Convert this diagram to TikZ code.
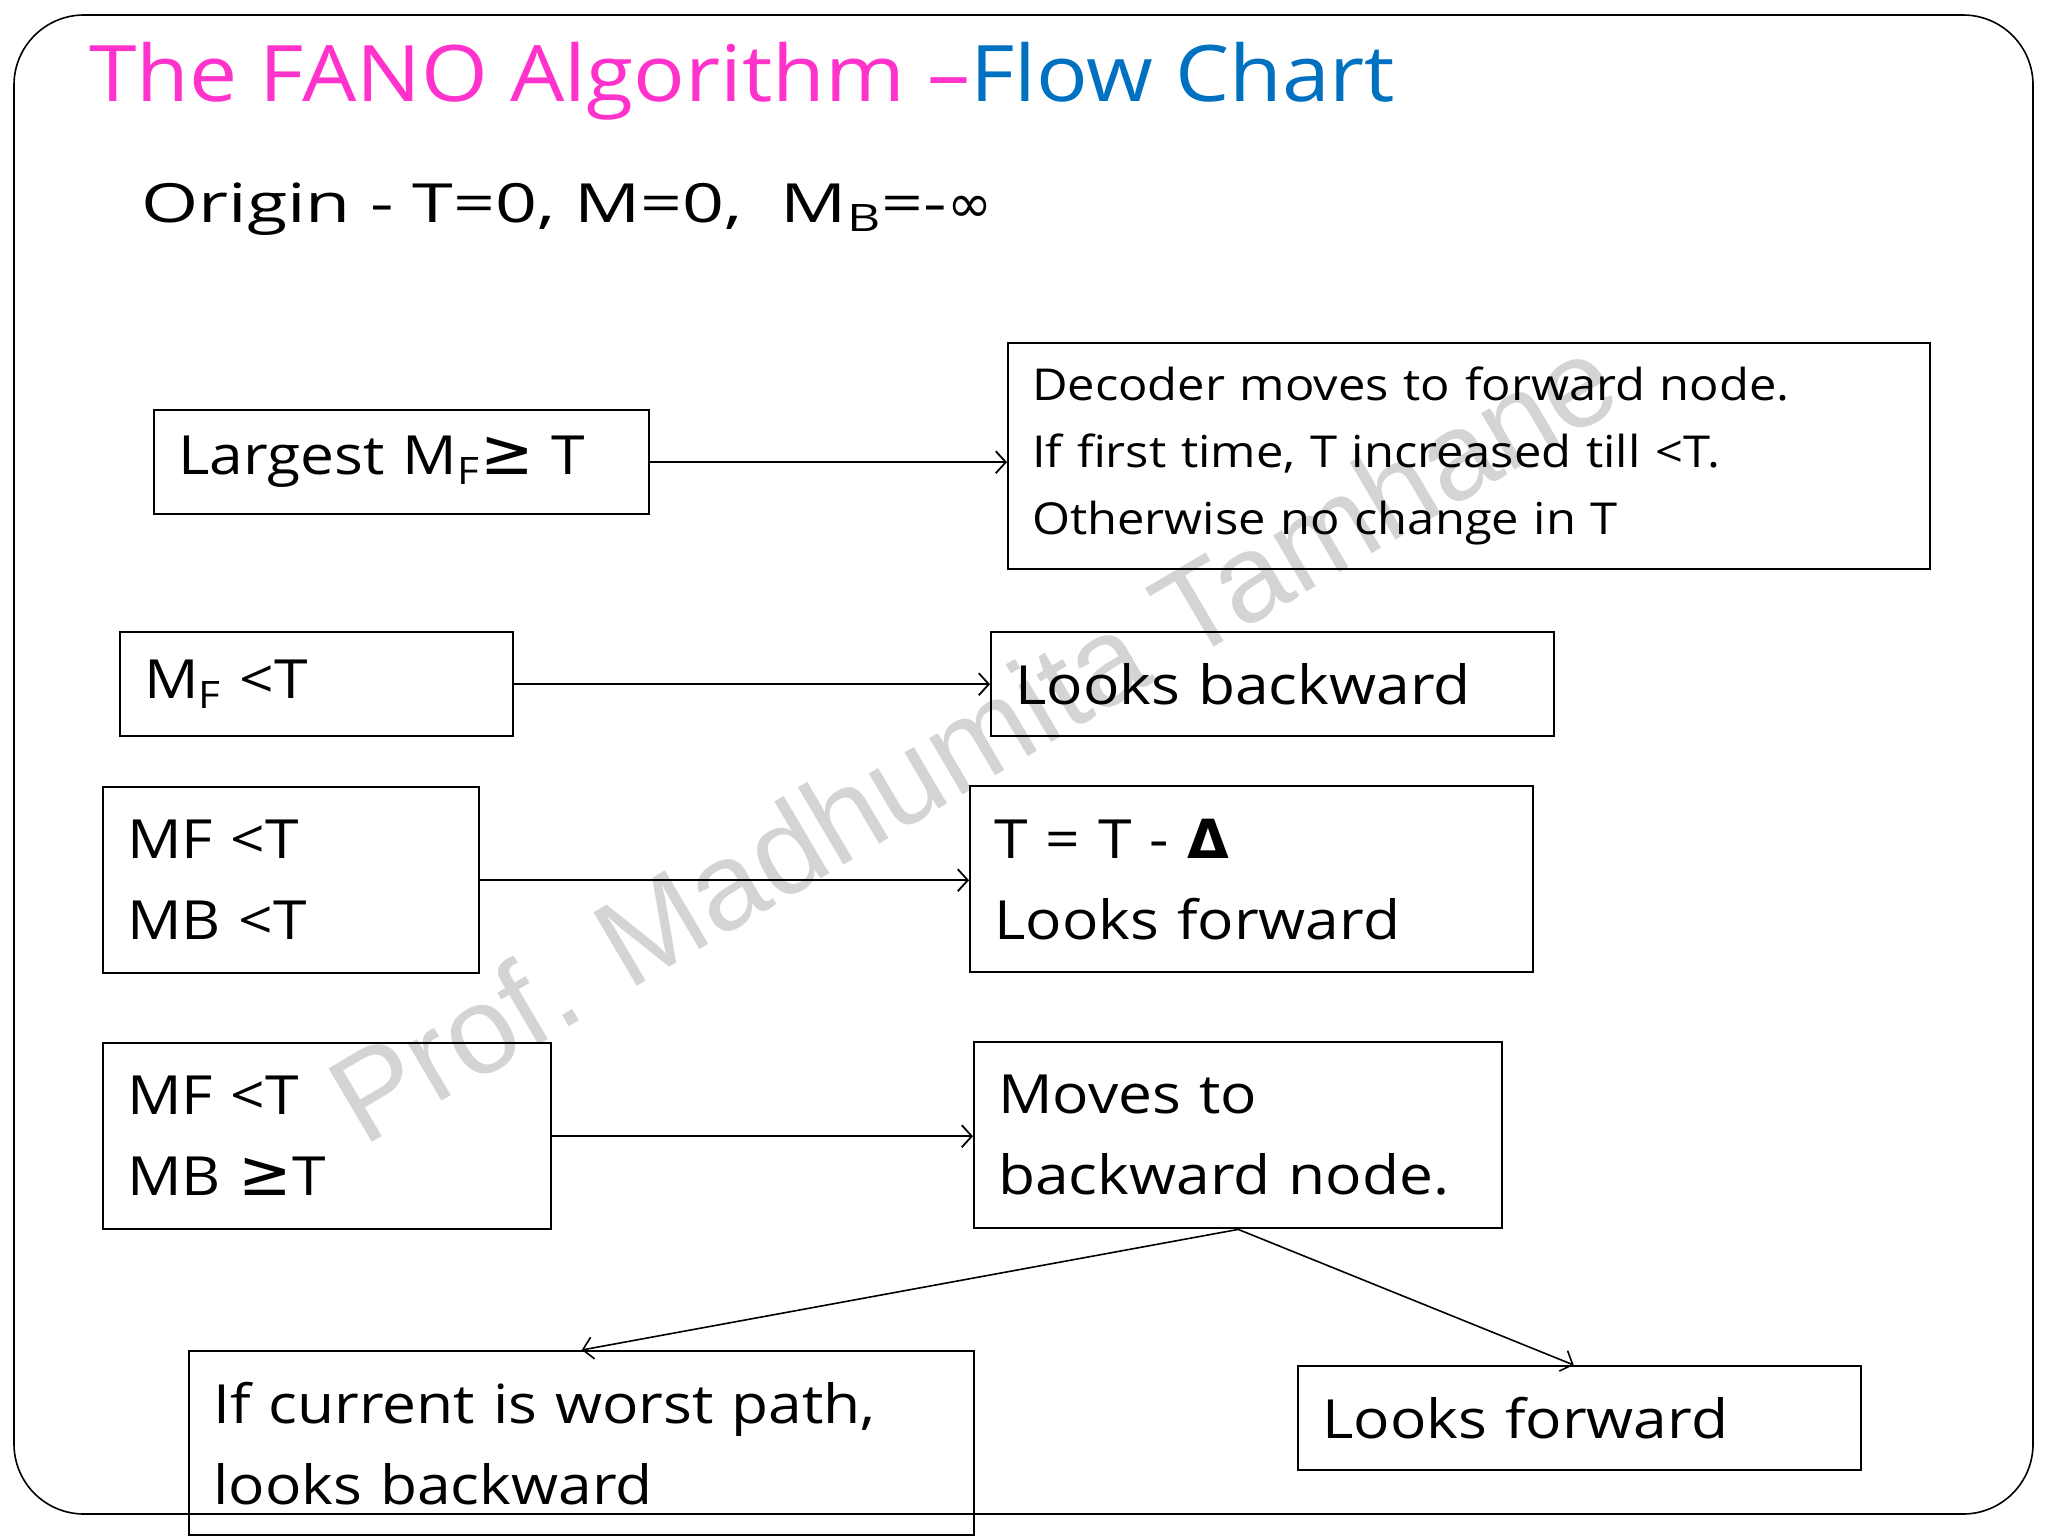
\documentclass[tikz,border=0pt]{standalone}
\usepackage{fontspec}
\setmainfont{Open Sans}
\newfontfamily\titlefont[FakeStretch=1.10]{Open Sans}
\newfontfamily\bodyfont[FakeStretch=1.12]{Open Sans}
\newfontfamily\decfont[FakeStretch=1.11]{Open Sans}
\newfontfamily\origfont[FakeStretch=1.36]{Open Sans}
\newfontfamily\symfont{DejaVu Sans}
\newfontfamily\wmfont{Liberation Sans}
\usetikzlibrary{arrows.meta,calc}
\definecolor{titlepink}{RGB}{255,51,204}
\definecolor{titleblue}{RGB}{0,112,192}
\definecolor{wmgray}{RGB}{212,212,212}
\newcommand{\geqsym}{{\symfont\fontsize{32}{32}\selectfont ≥}}
\begin{document}
\begin{tikzpicture}[x=0.5pt,y=-0.5pt,
  box/.style={draw=black, line width=1.2pt, anchor=north west, inner xsep=12pt, inner ysep=0pt, align=left, font=\bodyfont\fontsize{27}{40.5}\selectfont},
  arr/.style={draw=black, line width=1pt, -{Straight Barb[length=5pt,width=11pt,line width=0.9pt]}},
  thinarr/.style={draw=black, line width=0.8pt, -{Straight Barb[length=5pt,width=11pt,line width=0.8pt]}}]
\useasboundingbox (0,0) rectangle (2048,1536);
% watermark
\node[rotate=30.5, anchor=base, text=wmgray, font=\wmfont\fontsize{62}{62}\selectfont, inner sep=0pt] (wm) at (995,776) {Prof. Madhumita Tamhane};
% frame
\draw[line width=0.8pt, rounded corners=35pt] (14,15) rectangle (2033,1514);
% title
\node[anchor=base west, inner sep=0pt, font=\titlefont\fontsize{39}{39}\selectfont] (title) at (89,102) {\color{titlepink}The FANO Algorithm –\color{titleblue}Flow Chart};
\node[anchor=base west, inner sep=0pt, font=\origfont\fontsize{27}{27}\selectfont] (origin) at (141,222) {Origin - T=0, M=0,\ \ M\textsubscript{B}=-{\symfont ∞}};
% boxes
\node[box, minimum width=247.5pt, minimum height=52pt, text width=223.5pt] (A) at (153,409) {Largest M\textsubscript{F}\geqsym{} T};
\node[box, minimum width=196.5pt, minimum height=52pt, text width=172.5pt] (B) at (119,631) {M\textsubscript{F} <T};
\node[box, minimum width=461pt, minimum height=113pt, text width=437pt, font=\decfont\fontsize{22}{33.5}\selectfont] (C) at (1007,342) {Decoder moves to forward node.\\If first time, T increased till <T.\\Otherwise no change in T};
\node[box, minimum width=281.5pt, minimum height=52pt, text width=257.5pt] (D) at (990,631) {Looks backward};
\node[box, minimum width=188pt, minimum height=93pt, text width=164pt] (E) at (102,786) {MF <T\\MB <T};
\node[box, minimum width=281.5pt, minimum height=93pt, text width=257.5pt] (F) at (969,785) {T = T - {\symfont\bfseries Δ}\\Looks forward};
\node[box, minimum width=224pt, minimum height=93pt, text width=200pt] (G) at (102,1042) {MF <T\\MB \geqsym T};
\node[box, minimum width=264pt, minimum height=93pt, text width=240pt] (H) at (973,1041) {Moves to\\backward node.};
\node[box, minimum width=392.5pt, minimum height=92pt, text width=368.5pt] (I) at (188,1350) {If current is worst path,\\looks backward};
\node[box, minimum width=281.5pt, minimum height=52pt, text width=257.5pt] (J) at (1297,1365) {Looks forward};
% connectors
\draw[arr] (A.east) -- (A.east -| C.west);
\draw[arr] (B.east) -- (B.east -| D.west);
\draw[arr] (E.east) -- (E.east -| F.west);
\draw[arr] (G.east) -- (G.east -| H.west);
\coordinate (Jn) at ([xshift=-3pt]J.north);
\draw[thinarr] (H.south) -- (I.north);
\draw[thinarr] (H.south) -- (Jn);
\end{tikzpicture}
\end{document}
